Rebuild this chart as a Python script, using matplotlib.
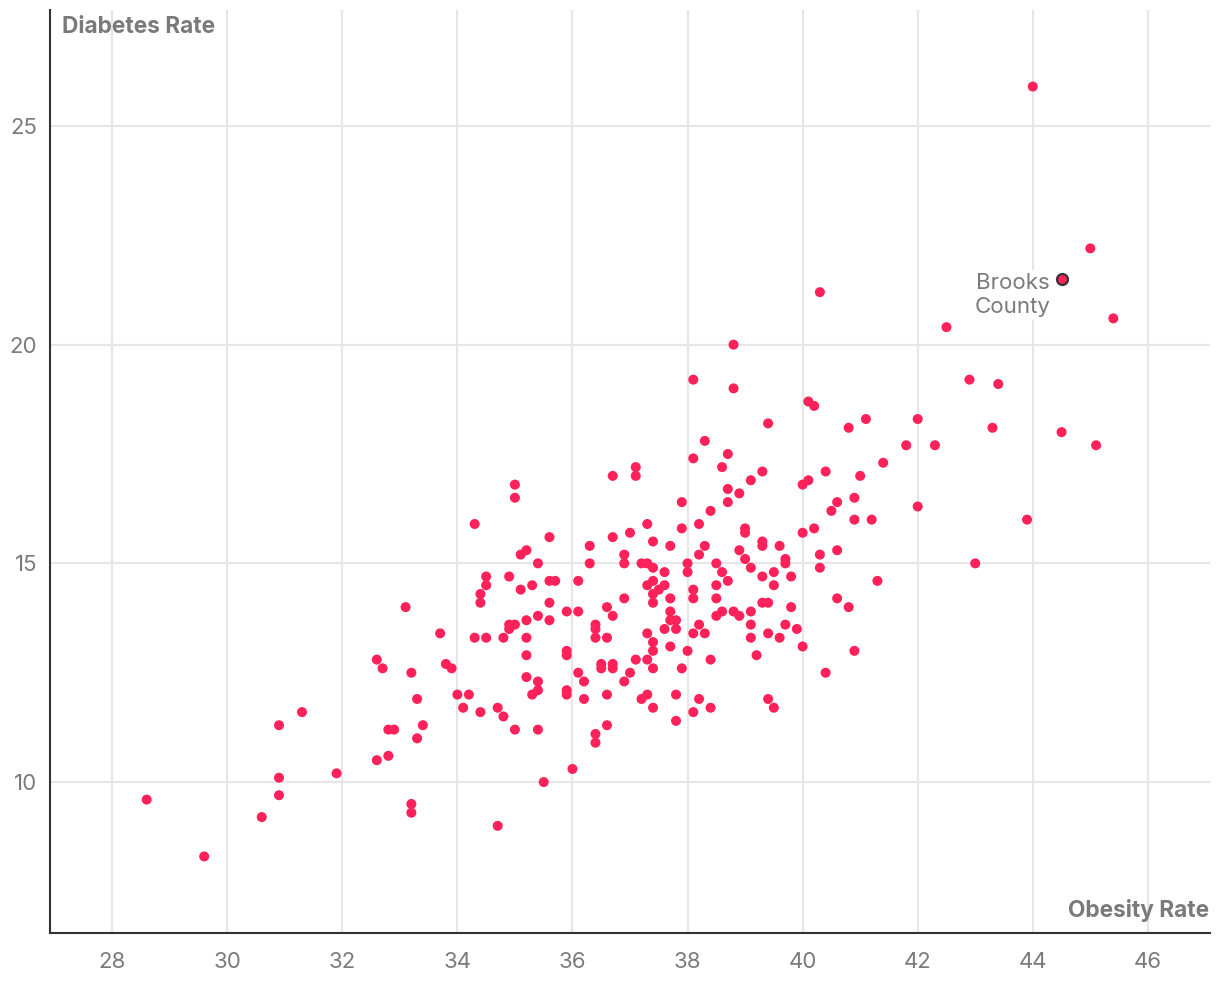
import numpy as np
import matplotlib
matplotlib.use("Agg")
import matplotlib.pyplot as plt

plt.rcParams['font.family'] = ['Inter', 'DejaVu Sans']

# county values (obesity %, diabetes %)
obesity = [
    44.0, 45.0, 40.3, 45.4, 42.5, 38.8, 38.1, 38.8, 42.9, 43.4,
    40.1, 40.2, 39.4, 41.1, 42.0, 40.8, 43.3, 44.5, 45.1, 41.8,
    42.3, 38.3, 38.7, 38.1, 41.4, 37.1, 37.1, 36.7, 38.6, 40.4,
    39.3, 41.0, 39.1, 40.1, 40.0, 38.7, 38.9, 35.0, 35.0, 38.7,
    37.9, 40.6, 40.9, 40.5, 38.4, 40.9, 41.2, 42.0, 43.9, 40.0,
    40.2, 39.6, 40.3, 40.6, 39.7, 39.7, 39.5, 39.5, 39.8, 40.3,
    43.0, 41.3, 40.6, 40.8, 39.8, 39.7, 39.9, 40.0, 40.9, 40.4,
    38.2, 37.9, 37.3, 37.0, 36.7, 37.4, 37.7, 36.3, 38.3, 38.2,
    39.0, 39.0, 39.3, 39.3, 38.9, 39.0, 36.9, 36.9, 36.3, 37.2,
    37.3, 37.4, 37.6, 38.0, 38.0, 38.5, 38.6, 38.7, 39.1, 39.3,
    37.3, 37.4, 37.6, 37.5, 37.4, 37.4, 37.7, 38.1, 38.1, 38.5,
    38.5, 36.9, 36.1, 35.9, 36.1, 36.6, 36.7, 36.4, 36.4, 36.6,
    36.4, 37.7, 37.7, 37.8, 37.6, 37.8, 37.3, 38.5, 38.6, 38.8,
    38.9, 39.1, 39.1, 39.3, 39.4, 38.2, 38.1, 38.3, 39.1, 39.4,
    39.6, 37.4, 37.4, 37.7, 38.0, 39.2, 35.9, 35.9, 36.5, 36.5,
    36.7, 36.7, 36.1, 36.2, 37.1, 37.3, 37.4, 37.0, 36.9, 37.9,
    38.4, 35.9, 35.9, 36.2, 36.6, 37.2, 37.3, 37.4, 37.8, 37.8,
    38.1, 38.2, 38.4, 39.4, 39.5, 36.6, 36.4, 36.4, 36.0, 34.3,
    34.5, 34.8, 35.2, 35.2, 35.2, 35.4, 35.4, 35.3, 32.6, 32.7,
    33.2, 33.8, 33.9, 33.3, 34.0, 34.2, 34.1, 34.4, 34.7, 34.8,
    35.0, 35.4, 32.8, 32.9, 33.4, 33.3, 32.6, 32.8, 31.9, 35.5,
    33.2, 33.2, 34.7, 31.3, 30.9, 30.9, 30.9, 30.6, 28.6, 29.6,
    34.3, 35.6, 35.1, 35.2, 35.4, 34.5, 34.5, 34.9, 35.1, 35.3,
    35.6, 35.7, 34.4, 34.4, 35.6, 33.1, 35.4, 35.2, 35.6, 34.9,
    35.0, 34.9, 33.7,
]
diabetes = [
    25.9, 22.2, 21.2, 20.6, 20.4, 20.0, 19.2, 19.0, 19.2, 19.1,
    18.7, 18.6, 18.2, 18.3, 18.3, 18.1, 18.1, 18.0, 17.7, 17.7,
    17.7, 17.8, 17.5, 17.4, 17.3, 17.2, 17.0, 17.0, 17.2, 17.1,
    17.1, 17.0, 16.9, 16.9, 16.8, 16.7, 16.6, 16.8, 16.5, 16.4,
    16.4, 16.4, 16.5, 16.2, 16.2, 16.0, 16.0, 16.3, 16.0, 15.7,
    15.8, 15.4, 15.2, 15.3, 15.1, 15.0, 14.8, 14.5, 14.7, 14.9,
    15.0, 14.6, 14.2, 14.0, 14.0, 13.6, 13.5, 13.1, 13.0, 12.5,
    15.9, 15.8, 15.9, 15.7, 15.6, 15.5, 15.4, 15.4, 15.4, 15.2,
    15.8, 15.7, 15.5, 15.4, 15.3, 15.1, 15.2, 15.0, 15.0, 15.0,
    15.0, 14.9, 14.8, 15.0, 14.8, 15.0, 14.8, 14.6, 14.9, 14.7,
    14.5, 14.6, 14.5, 14.4, 14.3, 14.1, 14.2, 14.4, 14.2, 14.5,
    14.2, 14.2, 14.6, 13.9, 13.9, 14.0, 13.8, 13.6, 13.5, 13.3,
    13.3, 13.9, 13.7, 13.7, 13.5, 13.5, 13.4, 13.8, 13.9, 13.9,
    13.8, 13.9, 13.6, 14.1, 14.1, 13.6, 13.4, 13.4, 13.3, 13.4,
    13.3, 13.2, 13.0, 13.1, 13.0, 12.9, 13.0, 12.9, 12.7, 12.6,
    12.7, 12.6, 12.5, 12.3, 12.8, 12.8, 12.6, 12.5, 12.3, 12.6,
    12.8, 12.1, 12.0, 11.9, 12.0, 11.9, 12.0, 11.7, 12.0, 11.4,
    11.6, 11.9, 11.7, 11.9, 11.7, 11.3, 11.1, 10.9, 10.3, 13.3,
    13.3, 13.3, 13.3, 12.9, 12.4, 12.3, 12.1, 12.0, 12.8, 12.6,
    12.5, 12.7, 12.6, 11.9, 12.0, 12.0, 11.7, 11.6, 11.7, 11.5,
    11.2, 11.2, 11.2, 11.2, 11.3, 11.0, 10.5, 10.6, 10.2, 10.0,
    9.5, 9.3, 9.0, 11.6, 11.3, 10.1, 9.7, 9.2, 9.6, 8.3,
    15.9, 15.6, 15.2, 15.3, 15.0, 14.7, 14.5, 14.7, 14.4, 14.5,
    14.6, 14.6, 14.3, 14.1, 14.1, 14.0, 13.8, 13.7, 13.7, 13.6,
    13.6, 13.5, 13.4,
]

brooks_name = "Brooks\nCounty"
brooks_obesity = 44.5
brooks_diabetes = 21.5

x_ticks = [28, 30, 32, 34, 36, 38, 40, 42, 44, 46]
y_ticks = [10, 15, 20, 25]

dot_color = "#ff2159"
text_gray = "#7a7a7a"

fig = plt.figure(figsize=(12.2, 10.06), dpi=100)
ax = fig.add_axes([50 / 1220, 1 - 933 / 1006, 1160 / 1220, 923 / 1006])

ax.scatter(obesity, diabetes, s=52, color=dot_color, edgecolors="none", zorder=3)
ax.scatter([brooks_obesity], [brooks_diabetes], s=62, color=dot_color,
           edgecolors="#333333", linewidths=1.6, zorder=4)
ax.annotate(brooks_name, (brooks_obesity, brooks_diabetes),
            xytext=(-49, -16), textcoords="offset pixels",
            ha="center", va="center", multialignment="center",
            fontsize=16, color=text_gray, linespacing=1.3, zorder=5,
            bbox=dict(boxstyle="square,pad=0.1", fc="white", ec="none"))

ax.set_xlim(26.92, 47.08)
ax.set_ylim(6.55, 27.65)
ax.set_xticks(x_ticks)
ax.set_yticks(y_ticks)
ax.grid(True, color="#e6e6e6", linewidth=1.5)
ax.set_axisbelow(True)

for side in ["top", "right"]:
    ax.spines[side].set_visible(False)
for side in ["left", "bottom"]:
    ax.spines[side].set_color("#333333")
    ax.spines[side].set_linewidth(1.5)

ax.tick_params(length=0, labelsize=16, labelcolor=text_gray)
ax.tick_params(axis="x", pad=14)
ax.tick_params(axis="y", pad=9)

ax.text(0.01, 0.994, "Diabetes Rate", transform=ax.transAxes, ha="left", va="top",
        fontsize=16.3, fontweight="bold", color=text_gray)
ax.text(0.999, 0.012, "Obesity Rate", transform=ax.transAxes, ha="right", va="bottom",
        fontsize=16.3, fontweight="bold", color=text_gray)

fig.savefig("out.png", dpi=100, facecolor="white")
